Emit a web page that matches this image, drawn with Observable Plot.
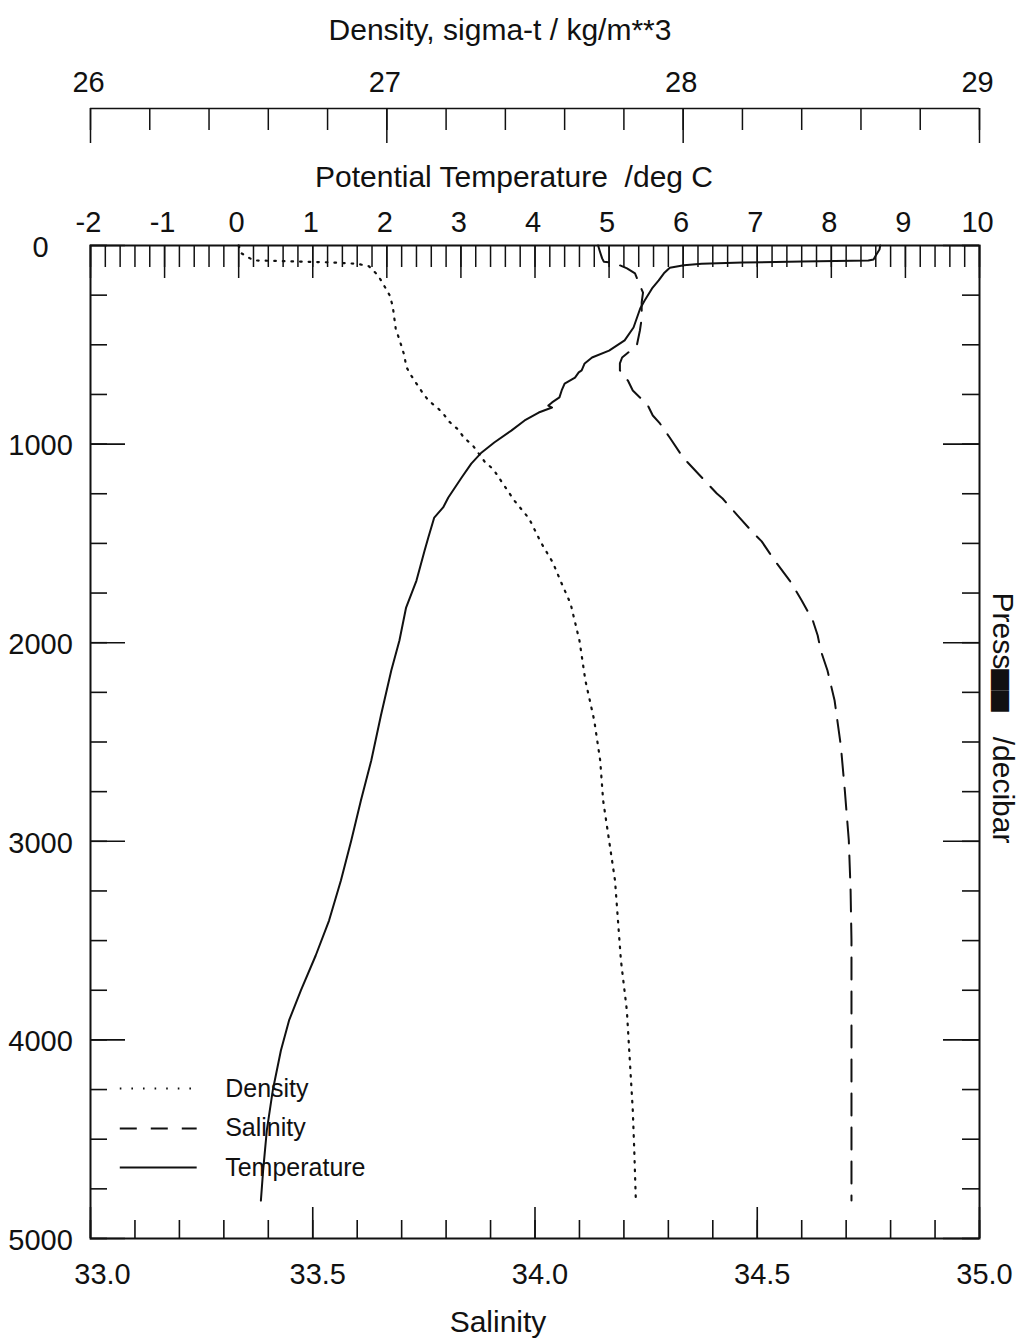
<!DOCTYPE html>
<html><head><meta charset="utf-8">
<script src="https://cdn.jsdelivr.net/npm/d3@7"></script>
<script src="https://cdn.jsdelivr.net/npm/@observablehq/plot@0.6"></script>
<style>body{margin:0;background:#fff;}</style>
</head><body><div id="chart"></div>
<script>
// ---- Data read from the profile (pressure in decibar) ----
const tempP = [0,20,50,70,76,80,86,92,100,112,140,176,216,277,317,413,478,529,564,594,629,639,665,695,730,765,790,806,816,841,881,932,992,1042,1098,1168,1269,1319,1370,1470,1536,1687,1823,1989,2140,2367,2593,2795,2996,3197,3399,3575,3751,3902,4053,4255,4456,4658,4809];
const tempT = [8.66,8.65,8.60,8.57,8.50,7.61,6.80,6.25,6.01,5.82,5.74,5.67,5.58,5.48,5.42,5.33,5.21,5.00,4.77,4.67,4.63,4.59,4.54,4.40,4.36,4.33,4.23,4.18,4.23,4.05,3.86,3.68,3.45,3.28,3.14,3.01,2.83,2.76,2.64,2.56,2.51,2.40,2.26,2.17,2.06,1.92,1.79,1.65,1.52,1.38,1.22,1.04,0.84,0.68,0.57,0.46,0.38,0.33,0.30];

const salP = [0,30,65,82,85,100,115,140,201,237,287,368,428,504,540,564,594,629,665,680,730,765,806,856,896,967,1067,1158,1249,1274,1360,1440,1490,1586,1687,1787,1888,1964,2040,2140,2291,2518,2744,2996,3248,3500,4000,4809];
const salS = [34.142,34.146,34.151,34.155,34.169,34.191,34.207,34.225,34.236,34.243,34.240,34.240,34.236,34.229,34.209,34.196,34.191,34.191,34.202,34.209,34.220,34.236,34.254,34.265,34.281,34.303,34.333,34.371,34.409,34.422,34.456,34.488,34.510,34.539,34.573,34.600,34.625,34.636,34.643,34.658,34.674,34.688,34.697,34.706,34.710,34.712,34.712,34.712];

const densP = [0,40,75,80,85,92,105,150,200,252,307,363,418,509,559,609,650,695,740,780,816,846,886,926,967,1007,1047,1088,1128,1173,1284,1375,1495,1596,1702,1803,1989,2190,2392,2593,2795,2996,3197,3399,3600,3852,4104,4355,4557,4794];
const densD = [26.50,26.51,26.55,26.68,26.81,26.90,26.94,26.97,26.99,27.01,27.02,27.025,27.03,27.05,27.06,27.065,27.08,27.10,27.12,27.14,27.17,27.19,27.21,27.24,27.26,27.29,27.31,27.33,27.36,27.38,27.43,27.48,27.52,27.56,27.59,27.62,27.65,27.67,27.70,27.72,27.73,27.75,27.77,27.78,27.79,27.81,27.82,27.83,27.835,27.84];

// ---- Tick labels ----
const salinityLabels = [33.0, 33.5, 34.0, 34.5, 35.0];
const tempLabels = [-2,-1,0,1,2,3,4,5,6,7,8,9,10];
const densityLabels = [26, 27, 28, 29];
const pressureLabels = [0,1000,2000,3000,4000,5000];
const legendNames = ["Density", "Salinity", "Temperature"];

// ---- Layout ----
const W = 1027, H = 1341, mL = 90, mR = 48, mT = 245, mB = 103;
const frameW = W - mL - mR, frameH = H - mT - mB;
const font = "Liberation Sans, Arial, Helvetica, sans-serif";
const ink = "#111";

// The three horizontal quantities share the salinity x scale (33..35)
const T2S = t => 33 + (t + 2) / 12 * 2;   // temperature -2..10
const D2S = d => 33 + (d - 26) / 3 * 2;   // sigma-t 26..29

const temp = tempP.map((p, i) => ({p, v: tempT[i]}));
const sal = salP.map((p, i) => ({p, v: salS[i]}));
const dens = densP.map((p, i) => ({p, v: densD[i]}));

const salMinor = d3.range(33, 35.0001, 0.1);
const tempMinor = d3.range(-2, 10.0001, 0.2);
const densMinor = d3.range(26, 29.0001, 0.2);
const pMinor = d3.range(0, 5001, 250);

// legend placement (in plot units)
const legX1 = 33.067, legX2 = 33.24, legTextX = 33.303;
const legP = [4245, 4446, 4643];

const lbl = {fill: ink, lineAnchor: "middle", textAnchor: "middle"};

const chart = Plot.plot({
  width: W, height: H,
  marginLeft: mL, marginRight: mR, marginTop: mT, marginBottom: mB,
  style: {fontFamily: font, background: "#fff", color: ink},
  x: {domain: [33, 35], axis: null},
  y: {domain: [0, 5000], reverse: true, axis: null},
  marks: [
    Plot.frame({stroke: ink, strokeWidth: 2}),
    // bottom salinity ticks (inward)
    Plot.ruleX(salMinor, {x: d => d, insetTop: frameH - 18, stroke: ink, strokeWidth: 1.6}),
    Plot.ruleX(salinityLabels, {x: d => d, insetTop: frameH - 31, stroke: ink, strokeWidth: 1.6}),
    Plot.text(salinityLabels.slice(0, 1), {...lbl, x: d => d, frameAnchor: "bottom", dx: 12, dy: 36, text: d => d.toFixed(1), fontSize: 29}),
    Plot.text(salinityLabels.slice(1), {...lbl, x: d => d, frameAnchor: "bottom", dx: 5, dy: 36, text: d => d.toFixed(1), fontSize: 29}),
    // top temperature ticks (inward)
    Plot.ruleX(tempMinor, {x: T2S, insetBottom: frameH - 22, stroke: ink, strokeWidth: 1.5}),
    Plot.ruleX(tempLabels, {x: T2S, insetBottom: frameH - 33, stroke: ink, strokeWidth: 1.5}),
    Plot.text(tempLabels, {...lbl, x: T2S, frameAnchor: "top", dx: -2, dy: -23, text: d => String(d), fontSize: 29}),
    // density axis above
    Plot.ruleY([0], {dy: -137, stroke: ink, strokeWidth: 1.6}),
    Plot.ruleX(densMinor, {x: D2S, insetBottom: frameH - 22, dy: -137, stroke: ink, strokeWidth: 1.5}),
    Plot.ruleX(densityLabels, {x: D2S, insetBottom: frameH - 35, dy: -137, stroke: ink, strokeWidth: 1.5}),
    Plot.text(densityLabels, {...lbl, x: D2S, frameAnchor: "top", dx: -2, dy: -163, text: d => String(d), fontSize: 29}),
    // pressure ticks left & right (inward)
    Plot.ruleY(pMinor, {y: d => d, insetRight: frameW - 17, stroke: ink, strokeWidth: 1.6}),
    Plot.ruleY(pressureLabels, {y: d => d, insetRight: frameW - 35, stroke: ink, strokeWidth: 1.6}),
    Plot.ruleY(pMinor, {y: d => d, insetLeft: frameW - 17, stroke: ink, strokeWidth: 1.6}),
    Plot.ruleY(pressureLabels, {y: d => d, insetLeft: frameW - 36, stroke: ink, strokeWidth: 1.6}),
    Plot.text(pressureLabels, {...lbl, y: d => d, frameAnchor: "left", dx: -50, dy: 2, text: d => String(d), fontSize: 29}),
    // axis titles
    Plot.text(["Density, sigma-t / kg/m**3"], {...lbl, frameAnchor: "top", dx: -35, dy: -215, fontSize: 30}),
    Plot.text(["Potential Temperature  /deg C"], {...lbl, frameAnchor: "top", dx: -21, dy: -68, fontSize: 30}),
    Plot.text(["Salinity"], {...lbl, frameAnchor: "bottom", dx: -37, dy: 84, fontSize: 30}),
    Plot.text(["Press\u2584\u2584   /decibar"], {...lbl, frameAnchor: "right", dx: 23, dy: -24, rotate: 90, fontSize: 30}),
    // profiles
    Plot.line(dens, {x: d => D2S(d.v), y: "p", stroke: ink, strokeWidth: 2.2, strokeDasharray: "1.6,7"}),
    Plot.line(sal, {x: "v", y: "p", stroke: ink, strokeWidth: 2, strokeDasharray: "22,12"}),
    Plot.line(temp, {x: d => T2S(d.v), y: "p", stroke: ink, strokeWidth: 2}),
    // legend
    Plot.ruleY([legP[0]], {x1: legX1, x2: legX2, stroke: ink, strokeWidth: 2, strokeDasharray: "1.6,10"}),
    Plot.ruleY([legP[1]], {x1: legX1, x2: legX2, stroke: ink, strokeWidth: 2, strokeDasharray: "17,14"}),
    Plot.ruleY([legP[2]], {x1: legX1, x2: legX2, stroke: ink, strokeWidth: 2}),
    Plot.text(legendNames, {x: legTextX, y: (d, i) => legP[i], text: d => d, textAnchor: "start", lineAnchor: "middle", fontSize: 25, fill: ink})
  ]
});
document.getElementById("chart").appendChild(chart);

// Lift the block glyphs of the pressure title so they sit on the baseline, as in the original
chart.querySelectorAll("text").forEach(t => {
  if (t.children.length === 0 && t.textContent.includes("\u2584")) {
    const [a, rest] = t.textContent.split("\u2584\u2584");
    t.textContent = a;
    const ns = "http://www.w3.org/2000/svg";
    const b = document.createElementNS(ns, "tspan");
    b.setAttribute("dy", "-7");
    b.textContent = "\u2584\u2584";
    const c = document.createElementNS(ns, "tspan");
    c.setAttribute("dy", "7");
    c.textContent = rest;
    t.appendChild(b); t.appendChild(c);
  }
});
</script>
</body></html>
